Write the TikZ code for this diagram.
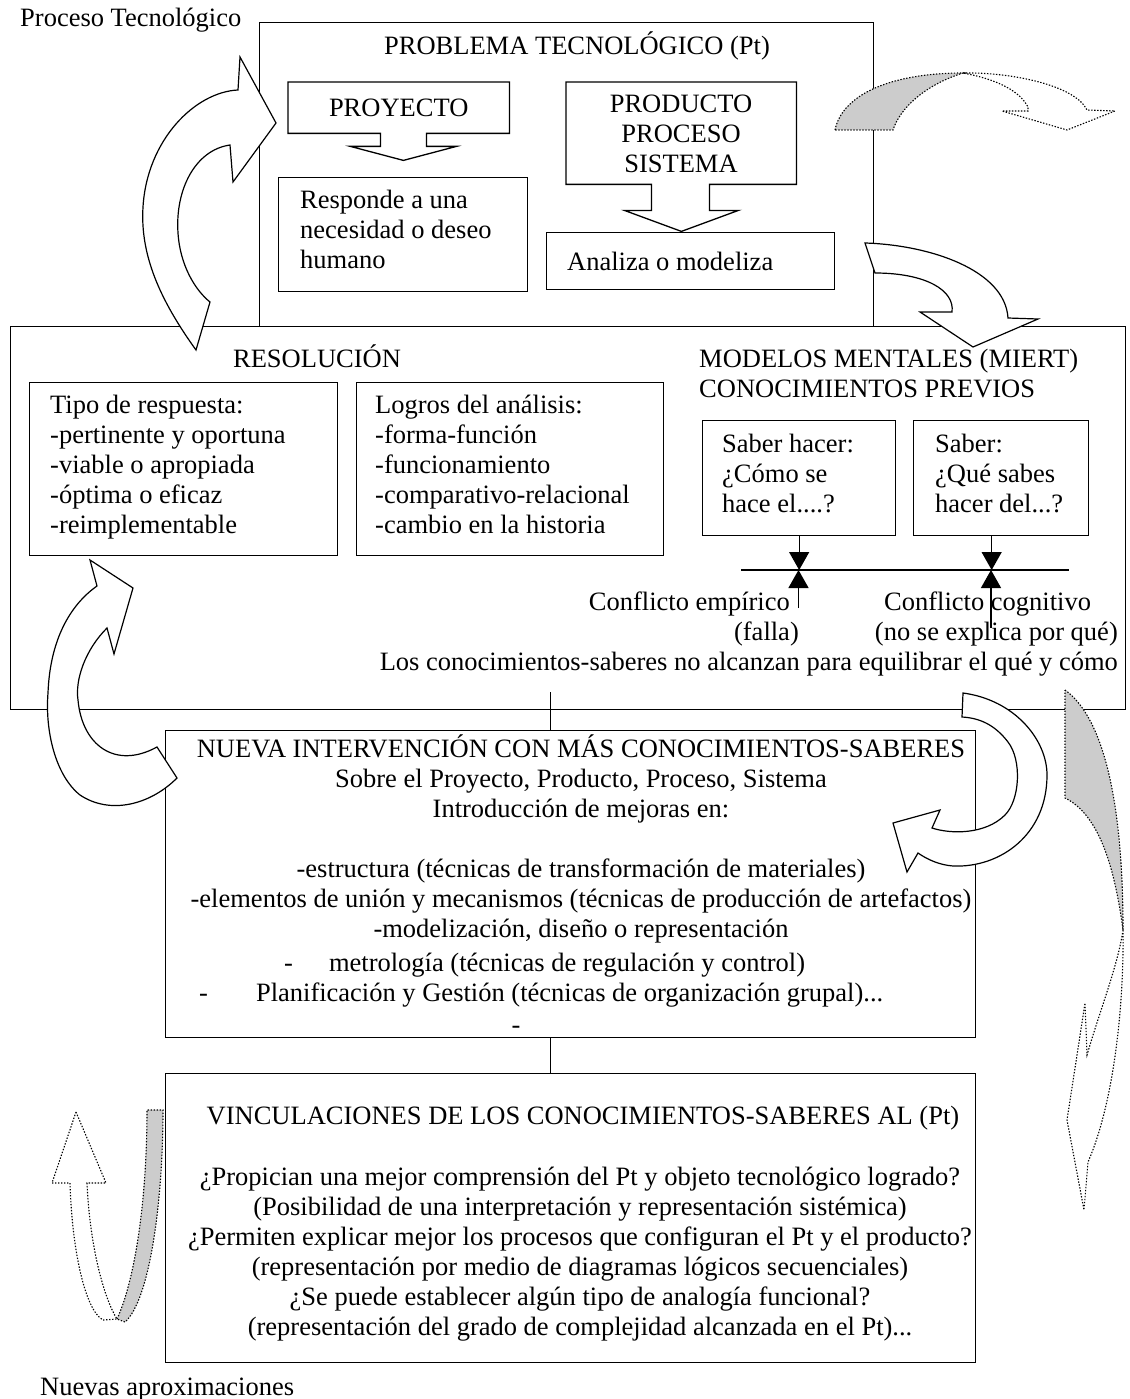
\documentclass[tikz,border=0pt]{standalone}
\usepackage{fontspec}
\setmainfont{Liberation Serif}
\usetikzlibrary{arrows.meta,calc}

\begin{document}
\begin{tikzpicture}[x=1pt,y=-1pt,>={Triangle[width=20pt,length=18pt]},
  font=\fontsize{26.5}{30}\selectfont,
  caja/.style={draw,line width=1.3pt,inner sep=0pt,anchor=north west},
  texto/.style={inner sep=0pt,align=left,anchor=north west,execute at begin node=\strut},
  centro/.style={texto,align=center,anchor=north},
  flecha/.style={draw,line width=1.2pt,fill=white,line join=miter},
  punto/.style={draw,line width=1.1pt,dash pattern=on 1.4pt off 1.6pt},
  sombra/.style={punto,fill=black!20}]

  \useasboundingbox (0,0) rectangle (1129,1399);

  \node[caja,minimum width=614pt,minimum height=304pt] (problema) at (259,22) {};
  \node[caja,minimum width=1115pt,minimum height=383pt] (resolucion) at (10,326) {};

  \node[inner sep=0pt,minimum width=221pt,minimum height=51pt,anchor=north west] (proyecto) at (288,82) {PROYECTO};
  \draw[line width=1.3pt] (proyecto.south west) -- (proyecto.north west) -- (proyecto.north east) -- (proyecto.south east)
    -- ++(-83,0) -- ++(0,13) -- ++(30,0) -- ++(-53,14) -- ++(-53,-14) -- ++(30,0) -- ++(0,-13) -- cycle;
  \node[inner sep=0pt,minimum width=230pt,minimum height=102pt,anchor=north west] (producto) at (566,82) {};
  \draw[line width=1.3pt] (producto.south west) -- (producto.north west) -- (producto.north east) -- (producto.south east)
    -- ++(-87,0) -- ++(0,26) -- ++(29,0) -- ++(-57,21) -- ++(-57,-21) -- ++(27,0) -- ++(0,-26) -- cycle;
  \node[caja,minimum width=249pt,minimum height=114pt] (responde) at (278,177) {};
  \node[caja,minimum width=288pt,minimum height=57pt] (analiza) at (546,232) {};

  \node[caja,minimum width=308pt,minimum height=173pt] (tipo) at (29,382) {};
  \node[caja,minimum width=307pt,minimum height=173pt] (logros) at (356,382) {};
  \node[caja,minimum width=193pt,minimum height=115pt] (saberhacer) at (702,420) {};
  \node[caja,minimum width=175pt,minimum height=115pt] (saber) at (913,420) {};

  \node[caja,minimum width=810pt,minimum height=307pt] (nueva) at (165,730) {};
  \node[caja,minimum width=810pt,minimum height=289pt] (vinc) at (165,1073) {};

  \coordinate (l1) at (741,570);
  \coordinate (l2) at (1069,570);
  \coordinate (s2) at ([xshift=-9.5pt]saber.south);
  \coordinate (ce) at (798.5,608);
  \coordinate (cc) at (991,628);
  \coordinate (c1) at (550,692);
  \draw[line width=1.3pt] (l1) -- (l2);
  \draw[->,line width=1.3pt] (saberhacer.south) -- (saberhacer.south |- l1);
  \draw[->,line width=1.3pt] (s2) -- (s2 |- l1);
  \draw[->,line width=1.3pt] (ce) -- (ce |- l1);
  \draw[->,line width=1.3pt] (cc) -- (cc |- l1);
  \draw[line width=1pt] (c1) -- (c1 |- nueva.north);
  \draw[line width=1pt] (c1 |- nueva.south) -- (c1 |- vinc.north);

  \draw[flecha] (196,350) .. controls (160,300) and (140,255) .. (143,207) .. controls (147,140) and (195,92) .. (238,90)
    -- (240,57) -- (276,123) -- (233,182) -- (230,145) .. controls (195,150) and (175,190) .. (178,233)
    .. controls (180,265) and (195,290) .. (210,302) -- cycle;
  \draw[flecha] (90,560) -- (133,588) -- (114,654) -- (107,628) .. controls (85,650) and (75,680) .. (78,700)
    .. controls (82,745) and (115,770) .. (157,747) -- (177,778) .. controls (150,805) and (110,815) .. (80,795)
    .. controls (55,775) and (45,730) .. (48,693) .. controls (50,640) and (70,605) .. (97,586) -- cycle;
  \draw[flecha] (963,693) .. controls (1015,700) and (1047,740) .. (1047,775) .. controls (1047,835) and (1000,868) .. (953,866)
    .. controls (940,865) and (928,860) .. (918,853) -- (907,872) -- (893,823) -- (940,810) -- (932,828)
    .. controls (950,834) and (985,835) .. (1005,815) .. controls (1020,800) and (1022,760) .. (1008,742)
    .. controls (995,725) and (980,718) .. (962,717) -- cycle;
  \draw[flecha] (865,243) .. controls (930,245) and (1005,270) .. (1008,318) -- (1038,319) -- (973,347) -- (920,312)
    -- (952,312) .. controls (955,290) and (925,273) .. (875,273) -- cycle;

  \draw[sombra] (835,130) .. controls (842,95) and (890,73) .. (963,73) .. controls (925,85) and (900,108) .. (893,130) -- cycle;
  \draw[punto] (963,73) .. controls (1010,72) and (1075,85) .. (1087,110) -- (1115,111) -- (1067,130) -- (1002,111)
    -- (1028,111) -- (1028,107) .. controls (1020,92) and (1000,80) .. (963,73);
  \draw[sombra] (1065,690) .. controls (1100,715) and (1123,790) .. (1123,930) .. controls (1115,870) and (1100,815) .. (1065,798) -- cycle;
  \draw[punto] (1123,930) .. controls (1124,1000) and (1115,1100) .. (1088,1162) -- (1084,1210) -- (1067,1120) -- (1085,1003)
    -- (1087,1055) .. controls (1100,1010) and (1118,965) .. (1123,930);
  \draw[punto] (76,1112) -- (106,1183) -- (87,1183) .. controls (90,1250) and (105,1300) .. (117,1319) -- (103,1320)
    .. controls (85,1310) and (72,1250) .. (70,1183) -- (52,1183) -- cycle;
  \draw[sombra] (117,1319) .. controls (135,1280) and (147,1200) .. (147,1110) -- (163,1110)
    .. controls (163,1200) and (150,1300) .. (125,1322) -- cycle;

  \node[texto] (titulo) at (20,5) {Proceso Tecnológico};
  \node[centro] (problematx) at (577,32) {PROBLEMA TECNOLÓGICO (Pt)};
  \node[centro] (productotx) at (681,95) {PRODUCTO\\PROCESO\\SISTEMA};
  \node[texto] (respondetx) at (300,190) {Responde a una\\necesidad o deseo\\humano};
  \node[texto] (analizatx) at (567,249) {Analiza o modeliza};
  \node[centro] (resoluciontx) at (317,345) {RESOLUCIÓN};
  \node[texto] (tipotx) at (50,395) {Tipo de respuesta:\\-pertinente y oportuna\\-viable o apropiada\\-óptima o eficaz\\-reimplementable};
  \node[texto] (logrostx) at (375,395) {Logros del análisis:\\-forma-función\\-funcionamiento\\-comparativo-relacional\\-cambio en la historia};
  \node[texto] (modelostx) at (699,349) {MODELOS MENTALES (MIERT)\\CONOCIMIENTOS PREVIOS};
  \node[texto] (saberhacertx) at (722,434) {Saber hacer:\\¿Cómo se\\hace el....?};
  \node[texto] (sabertx) at (935,434) {Saber:\\¿Qué sabes\\hacer del...?};
  \node[texto,anchor=north east] (empirico) at (790,589) {Conflicto empírico};
  \node[texto,anchor=north east] (falla) at (799,619) {(falla)};
  \node[texto] (cognitivo) at (884,589) {Conflicto cognitivo};
  \node[texto,anchor=north east] (explica) at (1118,619) {(no se explica por qué)};
  \node[texto,anchor=north east] (equilibrar) at (1118,649) {Los conocimientos-saberes no alcanzan para equilibrar el qué y cómo};
  \node[centro] (nuevatx) at (581,735) {NUEVA INTERVENCIÓN CON MÁS CONOCIMIENTOS-SABERES\\Sobre el Proyecto, Producto, Proceso, Sistema\\Introducción de mejoras en:\\[30pt]-estructura (técnicas de transformación de materiales)\\-elementos de unión y mecanismos (técnicas de producción de artefactos)\\-modelización, diseño o representación};
  \node[texto] (metrologia) at (284,950) {-\hspace{36pt}metrología (técnicas de regulación y control)};
  \node[texto] (planificacion) at (199,980) {-\hspace{48pt}Planificación y Gestión (técnicas de organización grupal)...};
  \node[centro] (guion) at (516,1012) {-};
  \node[centro] (vinctx) at (583,1103) {VINCULACIONES DE LOS CONOCIMIENTOS-SABERES AL (Pt)};
  \node[centro] (preguntas) at (580,1167) {¿Propician una mejor comprensión del Pt y objeto tecnológico logrado?\\(Posibilidad de una interpretación y representación sistémica)\\¿Permiten explicar mejor los procesos que configuran el Pt y el producto?\\(representación por medio de diagramas lógicos secuenciales)\\¿Se puede establecer algún tipo de analogía funcional?\\(representación del grado de complejidad alcanzada en el Pt)...};
  \node[texto] (nuevas) at (40,1374) {Nuevas aproximaciones};
\end{tikzpicture}
\end{document}
